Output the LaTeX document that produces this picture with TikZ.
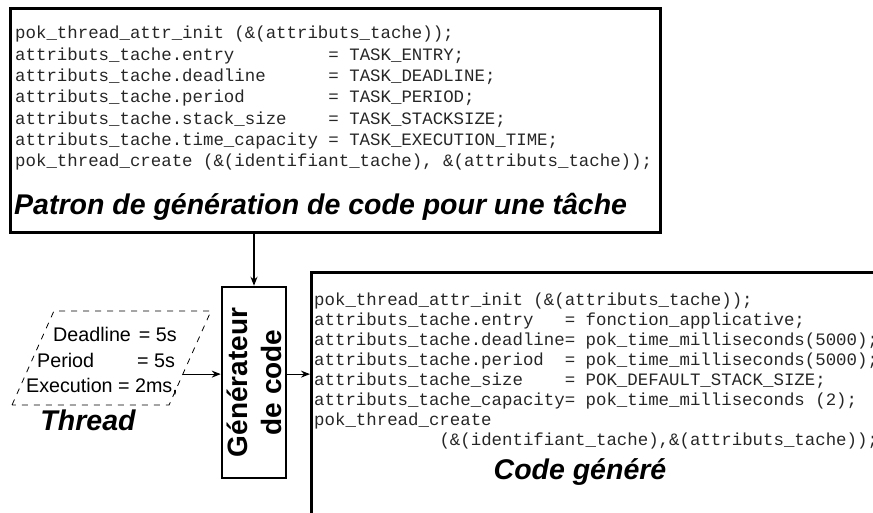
\documentclass[tikz,border=0pt]{standalone}
\usepackage{fontspec}
\setmainfont{Liberation Sans}
\setmonofont{Liberation Mono}
\usetikzlibrary{arrows.meta, shapes.geometric, calc}

\begin{document}
\begin{tikzpicture}[x=1pt, y=-1pt,
	boite/.style={shape=rectangle, draw, line width=2.5pt, inner sep=0pt},
	lignescode/.style={anchor=north west, align=left, inner sep=0pt, text=black!85, font=\ttfamily\fontsize{17.4}{21.3}\selectfont},
	titre/.style={inner sep=0pt, font=\bfseries\itshape\fontsize{28.5}{34}\selectfont},
	fleche/.style={line width=1.2pt, -{Stealth[length=9pt, width=7pt]}}]
	% Cadre:
	\useasboundingbox (0, 0) rectangle (873, 512);
	\clip (0, 0) rectangle (873, 512);
	% Patron de generation:
	\node[boite, anchor=north west, minimum width=650pt, minimum height=224pt] (patron) at (9, 7) {};
	\node[lignescode] (codepatron) at (15, 26) {pok\_thread\_attr\_init (\&(attributs\_tache));\\
		attributs\_tache.entry~~~~~~~~~= TASK\_ENTRY;\\
		attributs\_tache.deadline~~~~~~= TASK\_DEADLINE;\\
		attributs\_tache.period~~~~~~~~= TASK\_PERIOD;\\
		attributs\_tache.stack\_size~~~~= TASK\_STACKSIZE;\\
		attributs\_tache.time\_capacity = TASK\_EXECUTION\_TIME;\\
		pok\_thread\_create (\&(identifiant\_tache), \&(attributs\_tache));};
	\node[titre, anchor=west] (titrepatron) at (14, 207) {Patron de génération de code pour une tâche};
	% Thread:
	\node[shape=trapezium, trapezium left angle=70, trapezium right angle=110, trapezium stretches=true, minimum width=199pt, minimum height=94pt, draw, line width=0.8pt, dash pattern=on 6pt off 6pt] (thread) at (111.5, 358) {};
	\node[align=left, inner sep=0pt, font=\fontsize{19.7}{25.5}\selectfont] (params) at (102, 361.5) {\hspace*{27pt}Deadline\hspace{8pt}= 5s\\\hspace*{11pt}Period\hspace{43pt}= 5s\\Execution = 2ms,};
	\node[titre] (threadlbl) at (88, 420) {Thread};
	% Generateur:
	\node[boite, minimum width=64pt, minimum height=191pt] (gen) at (254, 382.5) {};
	\node[rotate=90, align=center, inner sep=0pt, font=\bfseries\fontsize{28}{34}\selectfont] (gentexte) at (gen.center) {Générateur\\de code};
	% Code genere:
	\node[boite, anchor=north west, minimum width=600pt, minimum height=300pt] (codebox) at (310, 271) {};
	\node[lignescode, font=\ttfamily\fontsize{17.4}{20}\selectfont] (codegenere) at (314, 293) {pok\_thread\_attr\_init (\&(attributs\_tache));\\
		attributs\_tache.entry~~~= fonction\_applicative;\\
		attributs\_tache.deadline= pok\_time\_milliseconds(5000);\\
		attributs\_tache.period~~= pok\_time\_milliseconds(5000);\\
		attributs\_tache\_size~~~~= POK\_DEFAULT\_STACK\_SIZE;\\
		attributs\_tache\_capacity= pok\_time\_milliseconds (2);\\
		pok\_thread\_create\\
		~~~~~~~~~~~~(\&(identifiant\_tache),\&(attributs\_tache));};
	\node[titre] (titregenere) at (580, 472) {Code généré};
	% Fleches:
	\coordinate (p) at ($(thread.bottom right corner)!0.33!(thread.top right corner)$);
	\draw[fleche] (p) -- (p -| gen.west);
	\draw[fleche] (p -| gen.east) -- (p -| codebox.west);
	\draw[fleche] (gen.north |- patron.south) -- (gen.north);
\end{tikzpicture}
\end{document}
